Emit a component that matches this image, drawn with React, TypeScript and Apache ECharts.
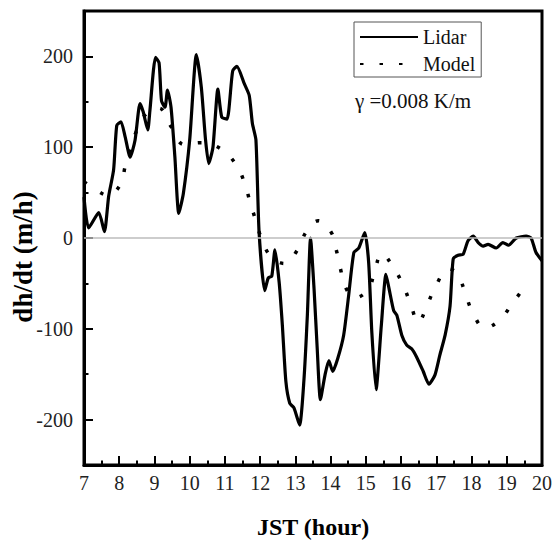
import React, { useEffect, useRef } from "react";
import * as echarts from "echarts";

const lidarHours = [7.0, 7.13, 7.42, 7.58, 7.7, 7.84, 7.93, 8.05, 8.17, 8.31, 8.45, 8.59, 8.68, 8.81, 8.87, 9.03, 9.13, 9.2, 9.3, 9.37, 9.47, 9.58, 9.69, 9.82, 10.0, 10.19, 10.33, 10.45, 10.54, 10.66, 10.8, 10.91, 11.06, 11.22, 11.34, 11.55, 11.69, 11.78, 11.88, 11.97, 12.13, 12.23, 12.33, 12.42, 12.54, 12.63, 12.73, 12.84, 12.96, 13.12, 13.24, 13.34, 13.43, 13.53, 13.62, 13.71, 13.84, 13.95, 14.06, 14.2, 14.37, 14.51, 14.66, 14.8, 14.97, 15.08, 15.17, 15.29, 15.44, 15.57, 15.66, 15.79, 15.88, 16.02, 16.16, 16.3, 16.44, 16.63, 16.79, 16.96, 17.1, 17.25, 17.39, 17.48, 17.62, 17.76, 17.9, 18.05, 18.19, 18.33, 18.47, 18.7, 18.89, 19.05, 19.27, 19.55, 19.69, 19.83, 20.0];
const lidarValues = [45, 11, 28, 7, 46, 75, 124, 128, 111, 89, 108, 148, 139, 119, 140, 199, 193, 151, 144, 163, 144, 89, 27, 49, 108, 202, 166, 108, 82, 100, 164, 133, 131, 184, 189, 170, 157, 126, 108, 6, -58, -44, -42, -13, -49, -96, -158, -182, -187, -206, -158, -85, 0, -56, -122, -178, -151, -135, -147, -133, -107, -64, -16, -11, 6, -27, -104, -167, -96, -40, -56, -80, -85, -107, -118, -122, -131, -147, -161, -151, -129, -107, -75, -23, -19, -18, -3, 2, -5, -9, -7, -11, -5, -8, 0, 2, 0, -16, -25];

const modelHours = [7.0, 7.3, 7.68, 8.05, 8.17, 8.5, 8.77, 9.13, 9.45, 9.85, 10.32, 10.89, 11.33, 11.57, 11.71, 11.87, 12.05, 12.3, 12.68, 13.08, 13.31, 13.65, 14.02, 14.16, 14.28, 14.42, 14.68, 15.06, 15.25, 15.45, 15.79, 16.07, 16.28, 16.49, 16.73, 16.97, 17.35, 17.59, 17.81, 18.0, 18.38, 18.78, 19.16, 19.54];
const modelValues = [62, 54, 47, 60, 79, 119, 137, 143, 124, 103, 105, 98, 80, 59, 40, 20, -2, -20, -28, -12, 7, 19, 6, -13, -34, -54, -66, -57, -37, -17, -33, -53, -74, -93, -75, -54, -34, -39, -59, -79, -99, -91, -72, -52];

const yMajorTicks = [-200, -100, 0, 100, 200];
const seriesNames = ["Lidar", "Model"];
const xTitle = "JST (hour)";
const yTitle = "dh/dt (m/h)";
const gammaNote = "γ =0.008 K/m";

const FONT = "'Liberation Serif', 'Times New Roman', serif";

export default function App() {
  const ref = useRef<HTMLDivElement>(null);
  useEffect(() => {
    if (!ref.current) return;
    const chart = echarts.init(ref.current, null, { renderer: "svg" });
    const lidar = lidarHours.map((h, i) => [h, lidarValues[i]]);
    const model = modelHours.map((h, i) => [h, modelValues[i]]);
    chart.setOption({
      animation: false,
      backgroundColor: "#fff",
      grid: {
        left: 84,
        right: 11,
        top: 11,
        bottom: 76,
        show: true,
        borderColor: "#000",
        borderWidth: 3,
        backgroundColor: "transparent",
      },
      legend: {
        orient: "vertical",
        left: 354,
        top: 22,
        padding: [5, 6, 3, 5],
        itemWidth: 58,
        itemHeight: 2,
        itemGap: 7,
        borderColor: "#555",
        borderWidth: 1,
        data: seriesNames,
        itemStyle: { opacity: 0 },
        textStyle: { fontFamily: FONT, fontSize: 20, color: "#111", lineHeight: 20 },
      },
      xAxis: {
        type: "value",
        min: 7,
        max: 20,
        interval: 1,
        axisLine: { show: true, onZero: false, lineStyle: { color: "#000", width: 3 } },
        axisTick: { show: true, inside: true, length: 9, lineStyle: { color: "#000", width: 2 } },
        minorTick: { show: true, splitNumber: 2, length: 4.5, lineStyle: { color: "#000", width: 2 } },
        axisLabel: { fontFamily: FONT, fontSize: 20, color: "#222", margin: 8 },
        splitLine: { show: false },
        name: xTitle,
        nameLocation: "middle",
        nameGap: 50,
        nameTextStyle: { fontFamily: FONT, fontSize: 24, fontWeight: "bold", color: "#000" },
      },
      yAxis: [
        {
          type: "value",
          min: -250,
          max: 250,
          interval: 50,
          axisLine: { show: true, onZero: false, lineStyle: { color: "#000", width: 3 } },
          axisTick: { show: true, inside: true, length: 4.5, lineStyle: { color: "#000", width: 2 } },
          axisLabel: { show: false },
          splitLine: { show: false },
        },
        {
          type: "value",
          min: -250,
          max: 250,
          position: "left",
          axisLine: { show: false, onZero: false },
          axisTick: { show: true, inside: true, length: 9, customValues: yMajorTicks, lineStyle: { color: "#000", width: 2 } },
          axisLabel: { customValues: yMajorTicks, fontFamily: FONT, fontSize: 20, color: "#222", margin: 11 },
          splitLine: { show: false },
        },
      ],
      graphic: [
        {
          type: "text",
          x: 23,
          y: 257,
          rotation: Math.PI / 2,
          style: {
            text: yTitle,
            fontFamily: FONT,
            fontSize: 27,
            fontWeight: "bold",
            fill: "#000",
            align: "center",
            verticalAlign: "middle",
          },
        },
        {
          type: "text",
          x: 355,
          y: 101,
          style: {
            text: gammaNote,
            fontFamily: FONT,
            fontSize: 21,
            fill: "#111",
            align: "left",
            verticalAlign: "middle",
          },
        },
      ],
      series: [
        {
          name: seriesNames[0],
          type: "line",
          data: lidar,
          symbol: "none",
          smooth: 0.2,
          lineStyle: { color: "#000", width: 3.2, join: "round" },
          itemStyle: { color: "#000" },
          z: 3,
          markLine: {
            silent: true,
            symbol: "none",
            label: { show: false },
            lineStyle: { color: "#bdbdbd", width: 1.5, type: "solid" },
            data: [{ yAxis: 0 }],
          },
        },
        {
          name: seriesNames[1],
          type: "line",
          data: model,
          symbol: "none",
          smooth: 0.4,
          lineStyle: { color: "#000", width: 3.5, type: [3.5, 16], cap: "butt" },
          itemStyle: { color: "#000" },
          z: 2,
        },
      ],
    });
    return () => chart.dispose();
  }, []);
  return (
    <div
      ref={ref}
      style={{ position: "absolute", left: 0, top: 0, width: 555, height: 544 }}
    />
  );
}
